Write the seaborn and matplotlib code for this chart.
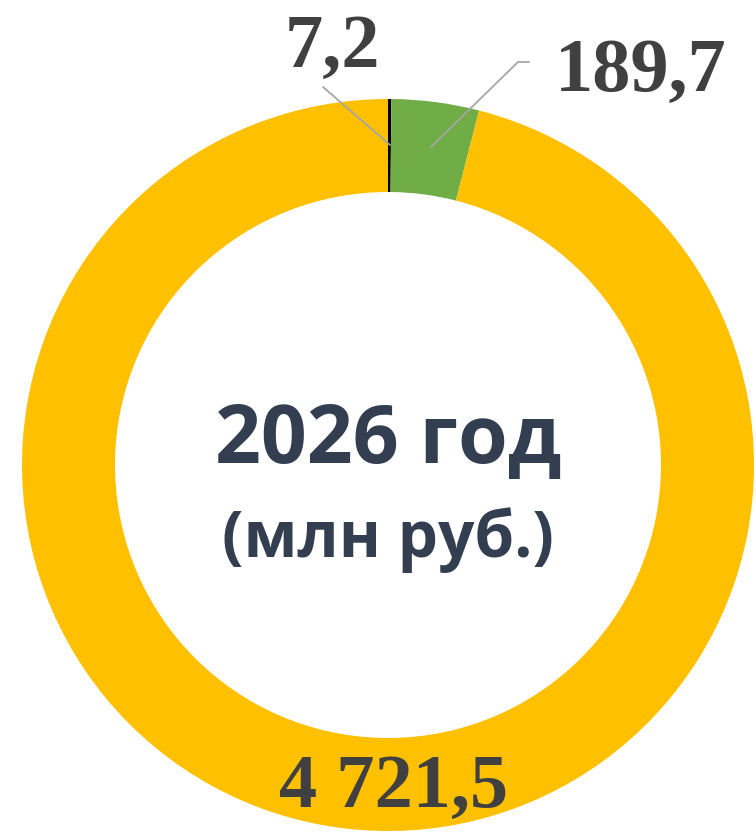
import matplotlib
matplotlib.use("Agg")
import matplotlib.pyplot as plt
import seaborn as sns

# data
categories = ["A", "B", "C"]
values = [7.2, 189.7, 4721.5]
value_labels = ["7,2", "189,7", "4 721,5"]
colors = ["#000000", "#70AD47", "#FFC000"]
title_line1 = "2026 год"
title_line2 = "(млн руб.)"

sns.set_theme(style="white")

fig = plt.figure(figsize=(7.56, 8.36), dpi=100)
ax = fig.add_axes([0, 0, 1, 1])
ax.set_xlim(-388, 368)
ax.set_ylim(-371, 465)
ax.set_aspect("equal")
ax.axis("off")

R = 366
ax.pie(values, colors=colors, radius=R, center=(0, 0), startangle=90,
       counterclock=False, wedgeprops=dict(width=93, linewidth=0))
ax.set_xlim(-388, 368)
ax.set_ylim(-371, 465)

serif = dict(family="Liberation Serif", weight="bold", size=55, color="#404040")
ax.text(-56, 398, value_labels[0], ha="center", va="baseline", **serif)
ax.text(253, 374, value_labels[1], ha="center", va="baseline", **serif)
ax.text(6, -342, value_labels[2], ha="center", va="baseline", **serif)

lc = "#A6A6A6"
ax.plot([-65, 2], [378, 320], color=lc, lw=1.3)
ax.plot([141, 130, 43], [403, 403, 318], color=lc, lw=1.3)

sans = dict(family="Open Sans", weight="bold", color="#333F50", ha="center", va="baseline")
ax.text(0, 2, title_line1, size=58, **sans)
ax.text(0, -92, title_line2, size=46, **sans)

fig.savefig("out.png", dpi=100)
